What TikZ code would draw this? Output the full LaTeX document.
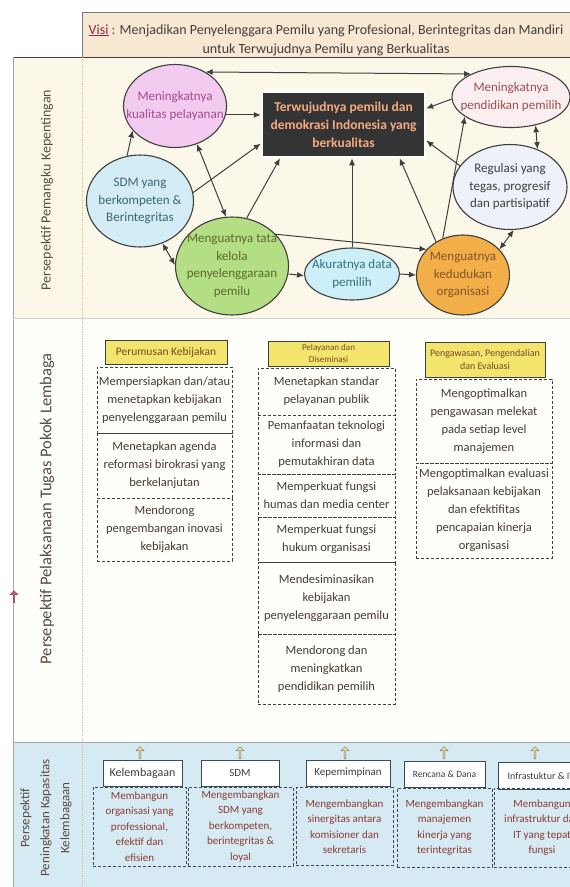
\documentclass[tikz,border=0pt]{standalone}
\usepackage{fontspec}
\setmainfont{Carlito}
\usetikzlibrary{shapes.geometric,shapes.arrows,arrows.meta}

\definecolor{visifill}{HTML}{F8E7D1}
\definecolor{visired}{HTML}{8B2A4A}
\definecolor{topfill}{HTML}{FBF8EA}
\definecolor{midfill}{HTML}{FEFEFB}
\definecolor{lowfill}{HTML}{D5EAF3}
\definecolor{framedark}{HTML}{4A3A4A}
\definecolor{dividercol}{HTML}{D8C98A}
\definecolor{linegray}{HTML}{3F3F3F}
\definecolor{kualfill}{HTML}{F3CAF0}
\definecolor{kualtext}{HTML}{A14E90}
\definecolor{sdmfill}{HTML}{D3ECF6}
\definecolor{sdmtext}{HTML}{3D6576}
\definecolor{tatafill}{HTML}{B4DE84}
\definecolor{tatatext}{HTML}{5A6A2E}
\definecolor{akurfill}{HTML}{CDEFF7}
\definecolor{akurtext}{HTML}{2E7384}
\definecolor{kedfill}{HTML}{F2AE48}
\definecolor{kedtext}{HTML}{85552A}
\definecolor{pendfill}{HTML}{FBEEF0}
\definecolor{pendtext}{HTML}{A04E50}
\definecolor{regfill}{HTML}{EEF0FA}
\definecolor{boxfill}{HTML}{343434}
\definecolor{boxtext}{HTML}{F5AA80}
\definecolor{headfill}{HTML}{F2E46C}
\definecolor{headtext}{HTML}{7A4A2A}
\definecolor{bodytext}{HTML}{4A3B35}
\definecolor{lowline}{HTML}{3A4A5A}
\definecolor{lowtext}{HTML}{8A3B30}
\definecolor{labeltext}{HTML}{5A4A40}
\definecolor{uparrowfill}{HTML}{F3D98A}
\definecolor{redmark}{HTML}{C8606E}

\begin{document}
\begin{tikzpicture}[x=1pt, y=-1pt,
  goal/.style={ellipse, draw=linegray, line width=1.1pt, inner xsep=-14pt, inner ysep=0pt, align=center, font=\fontsize{13}{17.5}\selectfont},
  link/.style={draw=linegray, line width=1pt, -{Latex[length=7pt,width=6pt]}},
  twolink/.style={draw=linegray, line width=1pt, {Latex[length=7pt,width=6pt]}-{Latex[length=7pt,width=6pt]}},
  headbox/.style={draw=linegray, line width=0.8pt, fill=headfill, text=headtext, align=center, inner sep=1pt},
  taskbox/.style={draw=linegray, dash pattern=on 3pt off 2pt, line width=0.8pt, text=bodytext, align=center, inner sep=2pt, font=\fontsize{12.5}{18}\selectfont},
  capbox/.style={draw=lowline, line width=1pt, fill=white, text=linegray, inner sep=1pt, font=\fontsize{11}{12}\selectfont},
  growbox/.style={draw=lowline, dash pattern=on 3pt off 2pt, line width=0.8pt, text=lowtext, align=center, inner sep=2pt, font=\fontsize{11}{15.5}\selectfont},
  uparrow/.style={single arrow, shape border rotate=90, fill=uparrowfill, draw=linegray!70, line width=0.5pt, minimum height=12pt, minimum width=8pt, single arrow head extend=1pt, inner sep=0pt},
  perspective/.style={rotate=90, text=labeltext, align=center}]
\useasboundingbox (0,0) rectangle (570,887);

% background bands
\fill[visifill] (82,12) rectangle (570,57);
\draw[linegray!70, line width=0.6pt] (82,57) -- (82,12) -- (570,12);
\fill[topfill] (13,57) rectangle (570,318);
\fill[midfill] (13,318) rectangle (570,742);
\fill[lowfill] (13,742) rectangle (570,887);
\draw[framedark, line width=1pt] (13,57) -- (570,57);
\draw[gray!70, line width=0.6pt] (13,57) -- (13,887);
\draw[dividercol, densely dotted, line width=0.7pt] (82,57) -- (82,887);
\draw[gray!35, line width=0.5pt] (13,318) -- (570,318);
\draw[gray!70, line width=0.6pt] (13,742) -- (570,742);

\node[align=center, text=linegray, font=\fontsize{14}{19}\selectfont] (visi) at (326,40) {\textcolor{visired}{\underline{Visi}~:} Menjadikan Penyelenggara Pemilu yang Profesional, Berintegritas dan Mandiri\\untuk Terwujudnya Pemilu yang Berkualitas};

\node[perspective, font=\fontsize{14}{18}\selectfont] (pkep) at (47,190) {Persepektif Pemangku Kepentingan};
\node[perspective, font=\fontsize{16.5}{20}\selectfont] (ptug) at (47,509) {Persepektif Pelaksanaan Tugas Pokok Lembaga};
\node[perspective, font=\fontsize{13}{20}\selectfont] (pkap) at (46,818) {Persepektif\\Peningkatan Kapasitas\\Kelembagaan};
\node[single arrow, shape border rotate=90, fill=redmark, draw=redmark!70!black, line width=0.4pt, minimum height=12pt, minimum width=8pt, single arrow head extend=1pt, inner sep=0pt] (mark) at (14,597) {};

% stakeholder goals
\node[goal, fill=kualfill, text=kualtext, minimum width=103, minimum height=83] (kual) at (175,106) {Meningkatnya\\kualitas pelayanan};
\node[goal, fill=sdmfill, text=sdmtext, minimum width=107, minimum height=92] (sdm) at (140,201) {SDM yang\\berkompeten \&\\Berintegritas};
\node[goal, fill=tatafill, text=tatatext, minimum width=113, minimum height=98] (tata) at (232,266) {Menguatnya tata\\kelola\\penyelenggaraan\\pemilu};
\node[goal, fill=akurfill, text=akurtext, minimum width=95, minimum height=52] (akur) at (352,274) {Akuratnya data\\pemilih};
\node[goal, fill=kedfill, text=kedtext, minimum width=93, minimum height=80] (ked) at (463,275) {Menguatnya\\kedudukan\\organisasi};
\node[goal, fill=pendfill, text=pendtext, minimum width=118, minimum height=61] (pend) at (511,97) {Meningkatnya\\pendidikan pemilih};
\node[goal, fill=regfill, text=linegray, minimum width=114, minimum height=85] (reg) at (510,187) {Regulasi yang\\tegas, progresif\\dan partisipatif};
\node[draw=white, line width=2.5pt, fill=boxfill, text=boxtext, align=center, minimum width=163, minimum height=65, font=\bfseries\fontsize{13.5}{18}\selectfont] (goalbox) at (343.5,124.5) {Terwujudnya pemilu dan\\demokrasi Indonesia yang\\berkualitas};

\draw[link] (kual.-10) -- (kual.-10 -| goalbox.west);
\draw[twolink] (kual.48) -- (pend.150);
\draw[link] (pend.182) -- (goalbox.11);
\draw[twolink] (pend.-49) -- (reg.54);
\draw[link] (reg.157) -- (goalbox.-11);
\draw[twolink] (reg.-85) -- (ked.35);
\draw[link] (ked.119) -- (pend.203);
\draw[link] (ked.129) -- (goalbox.-31);
\draw[link] (akur.north) -- (akur.north |- goalbox.south);
\draw[link] (tata.36) -- (ked.145);
\draw[link] (tata.-8) -- (akur.182);
\draw[link] (akur.east) -- (ked.west);
\draw[link] (tata.73) -- (goalbox.208);
\draw[link] (sdm.9) -- (goalbox.193);
\draw[link] (sdm.106) -- (kual.210);
\draw[twolink] (kual.-60) -- (tata.97);
\draw[twolink] (sdm.-62) -- (tata.179);

% main tasks
\node[headbox, minimum width=122, minimum height=24, font=\fontsize{11.5}{12}\selectfont] (hrum) at (166,352) {Perumusan Kebijakan};
\node[taskbox, minimum width=135, minimum height=66] (rum1) at (164.5,400) {Mempersiapkan dan/atau\\menetapkan kebijakan\\penyelenggaraan pemilu};
\node[taskbox, minimum width=135, minimum height=65] (rum2) at (164.5,465.5) {Menetapkan agenda\\reformasi birokrasi yang\\berkelanjutan};
\node[taskbox, minimum width=135, minimum height=63] (rum3) at (164.5,529.5) {Mendorong\\pengembangan inovasi\\kebijakan};

\node[headbox, minimum width=121, minimum height=25, font=\fontsize{9}{12}\selectfont] (hlay) at (328.5,353.5) {Pelayanan dan\\Diseminasi};
\node[taskbox, minimum width=137, minimum height=47] (lay1) at (326.5,391.5) {Menetapkan standar\\pelayanan publik};
\node[taskbox, minimum width=137, minimum height=59] (lay2) at (326.5,444.5) {Pemanfaatan teknologi\\informasi dan\\pemutakhiran data};
\node[taskbox, minimum width=137, minimum height=43] (lay3) at (326.5,495.5) {Memperkuat fungsi\\humas dan media center};
\node[taskbox, minimum width=137, minimum height=45] (lay4) at (326.5,539.5) {Memperkuat fungsi\\hukum organisasi};
\node[taskbox, minimum width=137, minimum height=72] (lay5) at (326.5,598) {Mendesiminasikan\\kebijakan\\penyelenggaraan pemilu};
\node[taskbox, minimum width=137, minimum height=70] (lay6) at (326.5,669) {Mendorong dan\\meningkatkan\\pendidikan pemilih};

\node[headbox, minimum width=120, minimum height=35, font=\fontsize{10}{13}\selectfont] (hawas) at (485,359.5) {Pengawasan, Pengendalian\\dan Evaluasi};
\node[taskbox, minimum width=136, minimum height=84] (awas1) at (484,421) {Mengoptimalkan\\pengawasan melekat\\pada setiap level\\manajemen};
\node[taskbox, minimum width=136, minimum height=95] (awas2) at (484,510.5) {Mengoptimalkan evaluasi\\pelaksanaan kebijakan\\dan efektifitas\\pencapaian kinerja\\organisasi};

% capacity building
\node[uparrow] (ua1) at (140,753) {};
\node[uparrow] (ua2) at (240,753) {};
\node[uparrow] (ua3) at (345,753) {};
\node[uparrow] (ua4) at (444,753) {};
\node[uparrow] (ua5) at (535,753) {};

\node[capbox, minimum width=79, minimum height=26, font=\fontsize{12}{12}\selectfont] (klem) at (142.5,773) {Kelembagaan};
\node[capbox, minimum width=78, minimum height=26] (ksdm) at (240,773) {SDM};
\node[capbox, minimum width=84, minimum height=26] (kpim) at (348,773) {Kepemimpinan};
\node[capbox, minimum width=81, minimum height=26, font=\fontsize{9.5}{12}\selectfont] (kren) at (444.5,774.5) {Rencana \& Dana};
\node[capbox, minimum width=86, minimum height=27, font=\fontsize{10}{12}\selectfont] (kinf) at (541,776) {Infrastuktur \& IT};

\node[growbox, minimum width=93, minimum height=79] (blem) at (139.5,826.5) {Membangun\\organisasi yang\\professional,\\efektif dan\\efisien};
\node[growbox, minimum width=105, minimum height=79] (bsdm) at (240.5,826.5) {Mengembangkan\\SDM yang\\berkompeten,\\berintegritas \&\\loyal};
\node[growbox, minimum width=97, minimum height=78] (bpim) at (344.5,826.5) {Mengembangkan\\sinergitas antara\\komisioner dan\\sekretaris};
\node[growbox, minimum width=95, minimum height=79] (bren) at (444.5,827.5) {Mengembangkan\\manajemen\\kinerja yang\\terintegritas};
\node[growbox, minimum width=96, minimum height=79] (binf) at (542,827.5) {Membangun\\infrastruktur dan\\IT yang tepat\\fungsi};
\end{tikzpicture}
\end{document}
